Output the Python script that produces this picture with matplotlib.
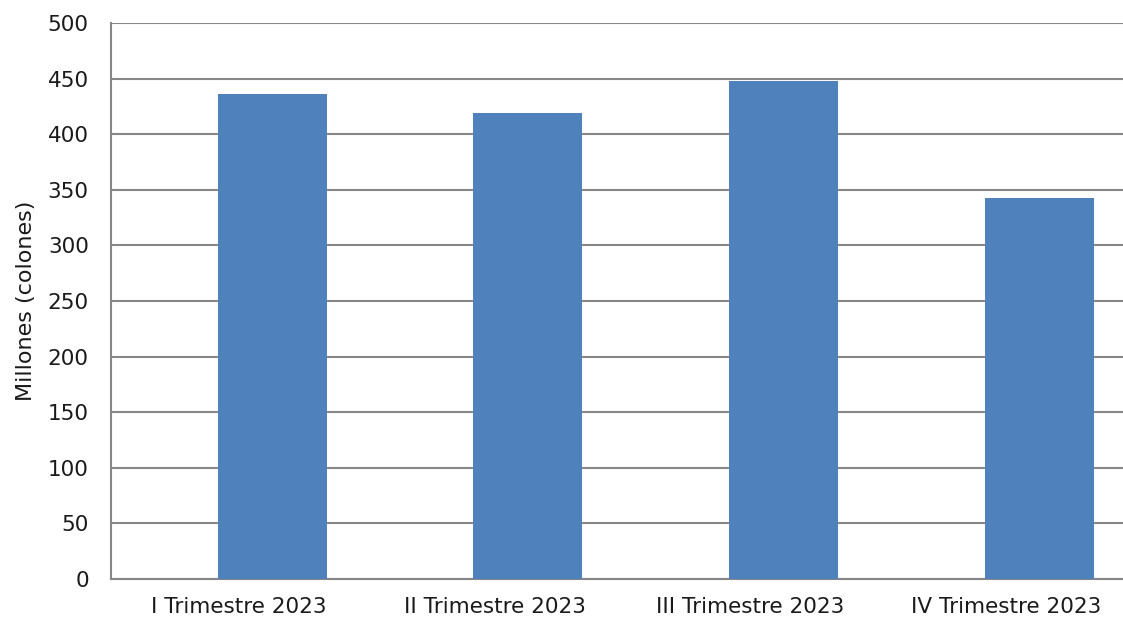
import matplotlib

matplotlib.use("Agg")
import matplotlib.pyplot as plt
import numpy as np

categories = ["I Trimestre 2023", "II Trimestre 2023", "III Trimestre 2023", "IV Trimestre 2023"]
values = [436, 419, 448, 343]
yticks = [0, 50, 100, 150, 200, 250, 300, 350, 400, 450, 500]

plt.rcParams["font.family"] = ["DejaVu Sans"]

fig = plt.figure(figsize=(11.23, 6.23), dpi=100)
# plot area runs slightly past the right edge of the picture
ax = fig.add_axes([111 / 1123, 44 / 623, 1023 / 1123, 556 / 623])

x = np.arange(len(categories))
ax.bar(x + 0.13, values, width=0.426, color="#4F81BD", zorder=3)

ax.set_xlim(-0.5, len(categories) - 0.5)
ax.set_ylim(0, 500)
ax.set_yticks(yticks)
ax.set_xticks(x)
ax.set_xticklabels(categories, fontsize=15.5, color="#1a1a1a")
ax.tick_params(axis="y", labelsize=15.5, labelcolor="#1a1a1a", length=0, pad=16)
ax.tick_params(axis="x", length=0, pad=13)

ax.grid(axis="y", color="#878787", linewidth=1.5, zorder=0)
for side in ["top", "right"]:
    ax.spines[side].set_visible(False)
ax.spines["left"].set_color("#878787")
ax.spines["left"].set_linewidth(1.5)
ax.spines["bottom"].set_color("#878787")
ax.spines["bottom"].set_linewidth(1.5)

ax.set_ylabel("Millones (colones)", fontsize=16, color="#1a1a1a")
ax.yaxis.set_label_coords(-75 / 1023, 0.5)

fig.savefig("out.png", dpi=100)
